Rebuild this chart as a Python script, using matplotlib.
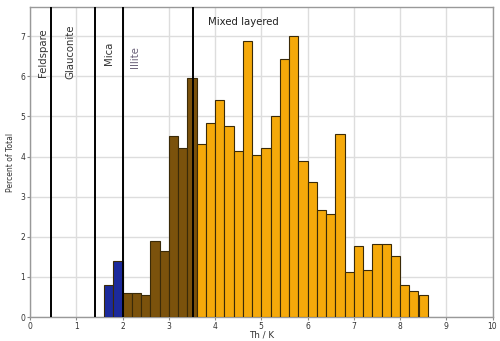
import numpy as np
import matplotlib.pyplot as plt

# Histogram of Th/K ratio, bins of 0.2
bin_left = np.round(np.arange(1.6, 8.6, 0.2), 1)
percent = [0.8, 1.4,                                      # 1.6 - 2.0 (mica)
           0.6, 0.6, 0.55, 1.9, 1.65, 4.5, 4.22, 5.95,    # 2.0 - 3.6 (illite)
           4.3, 4.83, 5.42, 4.76, 4.15, 6.87, 4.05, 4.22,
           5.02, 6.42, 7.0, 3.9, 3.37, 2.67, 2.57, 4.56,
           1.13, 1.78, 1.17, 1.83, 1.83, 1.52, 0.8, 0.65, 0.55]
group = ['mica'] * 2 + ['illite'] * 8 + ['mixed'] * 25

group_colors = {'mica': '#1c2a9c', 'illite': '#7b520c', 'mixed': '#f5a90a'}

# Mineral boundaries and labels
boundaries = [0.46, 1.4, 2.0, 3.52]
mineral_labels = ['Feldspare', 'Glauconite', 'Mica', 'Illite']
label_x = [0.28, 0.88, 1.7, 2.28]
label_top = [7.2, 7.3, 6.85, 6.75]
label_color = ['#333333', '#333333', '#333333', '#6a6078']

fig = plt.figure(figsize=(5.0, 3.41), dpi=100)
ax = fig.add_axes([0.06, 0.07, 0.925, 0.909])

ax.bar(bin_left, percent, width=0.2, align='edge',
       color=[group_colors[g] for g in group],
       edgecolor='#3a2a08', linewidth=0.8, zorder=3)

for xb in boundaries:
    ax.axvline(xb, color='black', linewidth=1.4, zorder=4)

for txt, xt, yt, col in zip(mineral_labels, label_x, label_top, label_color):
    ax.text(xt, yt, txt, rotation=90, ha='center', va='top',
            fontsize=7.3, color=col, zorder=5)
ax.text(3.85, 7.35, 'Mixed layered', ha='left', va='center',
        fontsize=7.3, color='#222222', zorder=5)

ax.set_xlim(0, 10)
ax.set_ylim(0, 7.72)
ax.set_xticks(range(0, 11))
ax.set_yticks(range(0, 8))
ax.grid(True, color='#dddddd', linewidth=1.0, zorder=0)
ax.set_axisbelow(True)
ax.tick_params(labelsize=5.5, length=2, color='#888888', pad=1.5, labelcolor='#333333')
for s in ax.spines.values():
    s.set_color('#999999')
    s.set_linewidth(1.0)

ax.set_xlabel('Th / K', fontsize=6.3, labelpad=0, color='#333333')
ax.set_ylabel('Percent of Total', fontsize=5.5, labelpad=4, color='#333333')

fig.savefig('out.png', dpi=100, facecolor='white')
